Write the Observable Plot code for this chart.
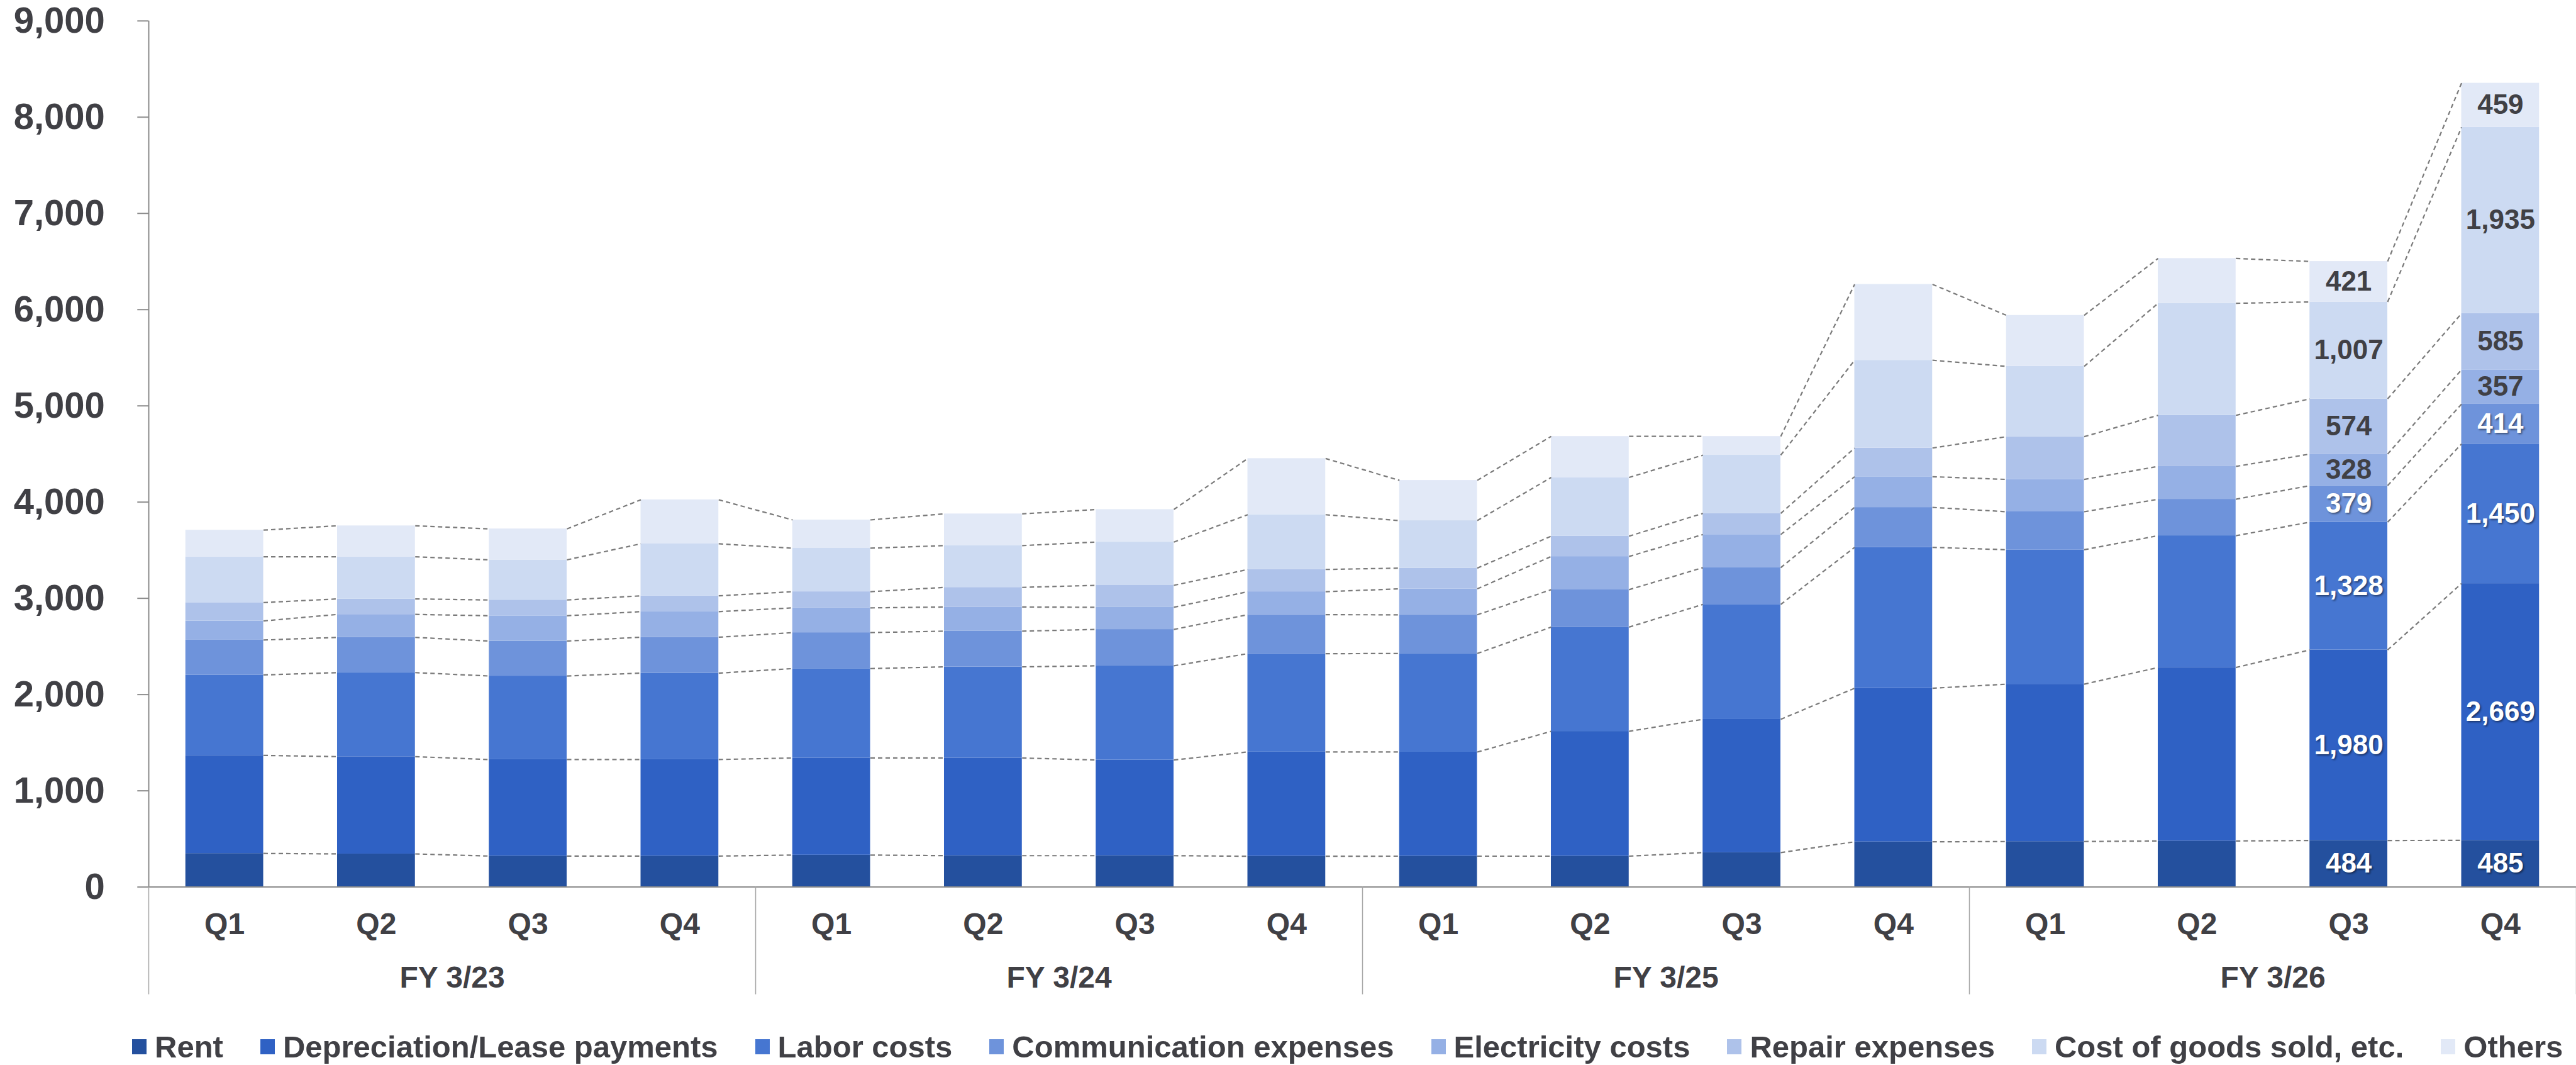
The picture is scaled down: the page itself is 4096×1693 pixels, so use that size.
<!DOCTYPE html>
<html>
<head>
<meta charset="utf-8">
<script src="https://cdn.jsdelivr.net/npm/d3@7"></script>
<script src="https://cdn.jsdelivr.net/npm/@observablehq/plot@0.6"></script>
<style>
  html, body { margin: 0; padding: 0; background: #fff; overflow: hidden; }
  #chart svg { display: block; }
  #chart g[fill="white"] text { text-shadow: 2px 2px 3px rgba(0,0,0,0.45); }
  .legend { display: flex; align-items: center; margin-left: 210px; margin-top: 26px; gap: 59px;
    font-family: "Liberation Sans", Arial, sans-serif; font-weight: bold; font-size: 49px;
    color: #404045; height: 56px; white-space: nowrap; }
  .legend .item { display: flex; align-items: center; gap: 13px; }
  .legend .sw { width: 23px; height: 24px; display: inline-block; }
</style>
</head>
<body>
<div id="chart"></div>
<div class="legend" id="legend"></div>
<script>
// ---- data ----
const quarters = ["Q1", "Q2", "Q3", "Q4"];
const fiscalYears = ["FY 3/23", "FY 3/24", "FY 3/25", "FY 3/26"];
const series = ["Rent", "Depreciation/Lease payments", "Labor costs", "Communication expenses",
  "Electricity costs", "Repair expenses", "Cost of goods sold, etc.", "Others"];
const colors = ["#24509E", "#2F61C4", "#4676D1", "#6E93DB", "#95B0E5", "#AEC2EA", "#CCDAF2", "#E2E9F7"];
const yTicks = [0, 1000, 2000, 3000, 4000, 5000, 6000, 7000, 8000, 9000];

const rent          = [349, 344, 322, 322, 332, 326, 326, 320, 321, 321, 358, 470, 473, 479, 484, 485];
const depreciation  = [1019, 1011, 1003, 1003, 1009, 1015, 994, 1084, 1082, 1297, 1385, 1596, 1635, 1802, 1980, 2669];
const labor         = [836, 873, 868, 898, 929, 947, 979, 1021, 1024, 1083, 1194, 1464, 1397, 1370, 1328, 1450];
const communication = [363, 366, 363, 373, 374, 371, 378, 405, 402, 389, 382, 415, 395, 379, 379, 414];
const electricity   = [198, 239, 263, 266, 257, 251, 230, 239, 270, 345, 344, 319, 336, 341, 328, 357];
const repair        = [191, 161, 164, 164, 168, 204, 228, 231, 215, 211, 220, 298, 444, 531, 574, 585];
const costOfGoods   = [476, 438, 417, 541, 452, 434, 450, 569, 494, 610, 605, 912, 731, 1164, 1007, 1935];
const others        = [277, 322, 322, 457, 294, 330, 338, 584, 418, 427, 195, 789, 530, 466, 421, 459];
const labeledBars = [14, 15];
const darkLabelFrom = 4; // series index from which labels are dark

// ---- build tables ----
const seriesValues = [rent, depreciation, labor, communication, electricity, repair, costOfGoods, others];
const n = rent.length;
const xDomain = [-0.5, n - 0.5];
const half = 0.513 / 2;

const segs = [];
const cum = seriesValues.map(() => []);
for (let i = 0; i < n; i++) {
  let base = 0;
  seriesValues.forEach((vals, k) => {
    const top = base + vals[i];
    segs.push({i, k, name: series[k], value: vals[i], y1: base, y2: top});
    cum[k][i] = top;
    base = top;
  });
}
const links = [];
cum.forEach(level => { for (let i = 0; i < n - 1; i++) links.push({i, a: level[i], b: level[i + 1]}); });
const labels = segs.filter(d => labeledBars.includes(d.i));
const groupBounds = d3.range(0, n + 1, quarters.length).map(i => i - 0.5);
const groupCenters = fiscalYears.map((_, g) => g * quarters.length + (quarters.length - 1) / 2);

const W = 4096, H = 1610, zeroY = 1409.6;
const fmt = d3.format(",");

const chart = Plot.plot({
  width: W, height: H,
  marginLeft: 236, marginRight: 0, marginTop: 32.8, marginBottom: H - zeroY,
  x: {type: "linear", domain: xDomain, label: null},
  y: {domain: [0, 9000], label: null},
  color: {domain: series, range: colors},
  style: {fontFamily: "'Liberation Sans', Arial, sans-serif", fontWeight: "bold", background: "white", overflow: "visible"},
  marks: [
    Plot.rectY(segs, {x1: d => d.i - half, x2: d => d.i + half, y1: "y1", y2: "y2", fill: "name"}),
    Plot.link(links, {x1: d => d.i + half, x2: d => d.i + 1 - half, y1: "a", y2: "b",
      stroke: "#7a7a7a", strokeWidth: 2.2, strokeDasharray: "7,5"}),
    Plot.ruleY([0], {stroke: "#8c8c8c", strokeWidth: 2}),
    Plot.ruleX([xDomain[0]], {y1: 0, y2: 9000, stroke: "#8c8c8c", strokeWidth: 2}),
    Plot.axisY({ticks: yTicks, tickSize: 17.7, tickFormat: () => "", stroke: "#8c8c8c", strokeWidth: 2, label: null}),
    Plot.axisY({ticks: yTicks, tickSize: 0, tickPadding: 69.7, tickFormat: fmt, fontSize: 58, fill: "#404045", label: null}),
    Plot.axisX({ticks: groupBounds, tickSize: 171, tickFormat: () => "", stroke: "#a6a6a6", strokeWidth: 1.5, label: null}),
    Plot.axisX({ticks: d3.range(n), tickSize: 0, tickPadding: 41, tickFormat: i => quarters[i % quarters.length],
      fontSize: 48, fill: "#404045", label: null}),
    Plot.axisX({ticks: groupCenters, tickSize: 0, tickPadding: 125.5,
      tickFormat: c => fiscalYears[Math.round((c - 1.5) / quarters.length)], fontSize: 48, fill: "#404045", label: null}),
    Plot.text(labels.filter(d => d.k < darkLabelFrom), {x: "i", y: d => (d.y1 + d.y2) / 2,
      text: d => fmt(d.value), fill: "white", fontSize: 44, fontWeight: "bold"}),
    Plot.text(labels.filter(d => d.k >= darkLabelFrom), {x: "i", y: d => (d.y1 + d.y2) / 2,
      text: d => fmt(d.value), fill: "#404045", fontSize: 44, fontWeight: "bold"})
  ]
});
document.getElementById("chart").appendChild(chart);

// ---- legend ----
const legend = d3.select("#legend");
series.forEach((s, k) => {
  const item = legend.append("div").attr("class", "item");
  item.append("span").attr("class", "sw").style("background", colors[k]);
  item.append("span").text(s);
});
</script>
</body>
</html>
